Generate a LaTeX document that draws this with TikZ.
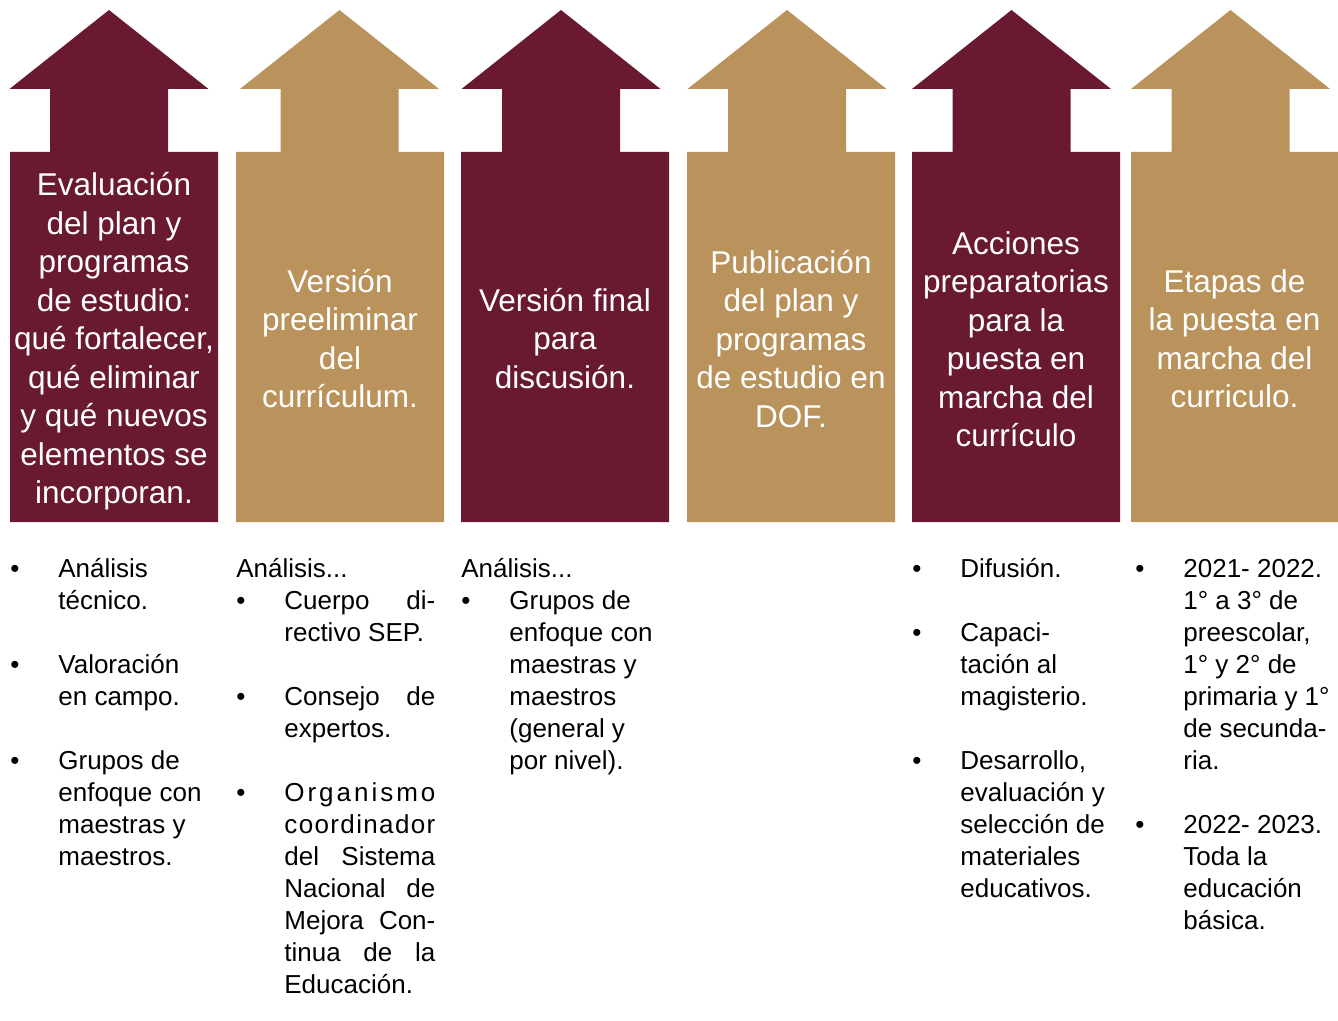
\documentclass[tikz,border=0pt]{standalone}
\usepackage{fontspec}
\setmainfont{Liberation Sans}
\definecolor{maroon}{RGB}{105,26,49}
\definecolor{gold}{RGB}{186,146,91}
\tikzset{
  boxtext/.style={text=white, align=center, inner sep=0pt, font=\fontsize{15.75pt}{19.25pt}\selectfont},
  listtext/.style={anchor=base west, inner sep=0pt, font=\fontsize{13pt}{16pt}\selectfont},
}
\newcommand\mybul[1]{\hbox{\makebox[24pt][l]{•}#1}}
\newcommand\mycont[1]{\hbox{\hspace*{24pt}#1}}
\newcommand\myjust[1]{\hbox{\hspace*{24pt}\hbox to 75.5pt{#1}}}
\newcommand\mybjust[1]{\hbox{\makebox[24pt][l]{•}\hbox to 75.5pt{#1}}}
\newcommand\myblank{\hbox{}}
\newcommand\mycol[1]{\vtop{\baselineskip=16pt\lineskiplimit=-100pt\lineskip=0pt\parindent=0pt #1}}
\begin{document}
\begin{tikzpicture}[x=0.5pt,y=-0.5pt]
\useasboundingbox (0,0) rectangle (1338,1021);
\foreach \hl/\xa/\xb/\c in {9.5/10/218/maroon, 240/236/444/gold, 461.5/461/669/maroon, 687.5/687/895/gold, 912/912/1120/maroon, 1131/1131/1338/gold}{
  \fill[\c] (\hl,89) -- ({\hl+99.5},10) -- ({\hl+199},89) -- ({\hl+158.5},89) -- ({\hl+158.5},152) -- (\xb,152) -- (\xb,522) -- (\xa,522) -- (\xa,152) -- ({\hl+40.5},152) -- ({\hl+40.5},89) -- cycle;
}
\node[boxtext] (t1) at (114,341.5) {Evaluación\\del plan y\\programas\\de estudio:\\qué fortalecer,\\qué eliminar\\y qué nuevos\\elementos se\\incorporan.};
\node[boxtext] (t2) at (340,338.5) {Versión\\preeliminar\\del\\currículum.};
\node[boxtext] (t3) at (565,338.5) {Versión final\\para\\discusión.};
\node[boxtext] (t4) at (791,339) {Publicación\\del plan y\\programas\\de estudio en\\DOF.};
\node[boxtext] (t5) at (1016,339) {Acciones\\preparatorias\\para la\\puesta en\\marcha del\\currículo};
\node[boxtext] (t6) at (1234.5,338.5) {Etapas de\\la puesta en\\marcha del\\curriculo.};

\node[listtext] (l1) at (10,577) {\mycol{%
  \mybul{Análisis}
  \mycont{técnico.}
  \myblank
  \mybul{Valoración}
  \mycont{en campo.}
  \myblank
  \mybul{Grupos de}
  \mycont{enfoque con}
  \mycont{maestras y}
  \mycont{maestros.}}};
\node[listtext] (l2) at (236,577) {\mycol{%
  \hbox{Análisis...}
  \mybjust{Cuerpo\hfill di-}
  \mycont{rectivo SEP.}
  \myblank
  \mybjust{Consejo\hfill de}
  \mycont{expertos.}
  \myblank
  \mybjust{O\hfill r\hfill g\hfill a\hfill n\hfill i\hfill s\hfill m\hfill o}
  \myjust{c\hfill o\hfill o\hfill r\hfill d\hfill i\hfill n\hfill a\hfill d\hfill o\hfill r}
  \myjust{del\hfill Sistema}
  \myjust{Nacional\hfill de}
  \myjust{Mejora\hfill Con-}
  \myjust{tinua\hfill de\hfill la}
  \mycont{Educación.}}};
\node[listtext] (l3) at (461,577) {\mycol{%
  \hbox{Análisis...}
  \mybul{Grupos de}
  \mycont{enfoque con}
  \mycont{maestras y}
  \mycont{maestros}
  \mycont{(general y}
  \mycont{por nivel).}}};
\node[listtext] (l5) at (912,577) {\mycol{%
  \mybul{Difusión.}
  \myblank
  \mybul{Capaci-}
  \mycont{tación al}
  \mycont{magisterio.}
  \myblank
  \mybul{Desarrollo,}
  \mycont{evaluación y}
  \mycont{selección de}
  \mycont{materiales}
  \mycont{educativos.}}};
\node[listtext] (l6) at (1135,577) {\mycol{%
  \mybul{2021- 2022.}
  \mycont{1° a 3° de}
  \mycont{preescolar,}
  \mycont{1° y 2° de}
  \mycont{primaria y 1°}
  \mycont{de secunda-}
  \mycont{ria.}
  \myblank
  \mybul{2022- 2023.}
  \mycont{Toda la}
  \mycont{educación}
  \mycont{básica.}}};
\end{tikzpicture}
\end{document}
